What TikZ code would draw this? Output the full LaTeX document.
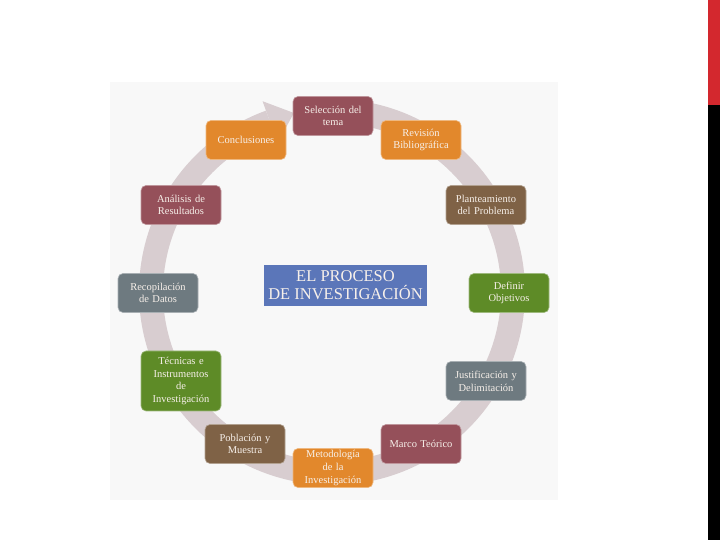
\documentclass[tikz,border=0pt]{standalone}
\usepackage{fontspec}
\setmainfont{Liberation Serif}
\usetikzlibrary{calc}
\definecolor{cmaroon}{HTML}{95505A}
\definecolor{corange}{HTML}{E2882C}
\definecolor{cbrown}{HTML}{7F6246}
\definecolor{cgreen}{HTML}{5E8B27}
\definecolor{cgray}{HTML}{6E7A80}
\definecolor{cblue}{HTML}{5B76B9}
\definecolor{cring}{HTML}{D8CDD0}
\definecolor{cpanel}{HTML}{F8F8F8}
\definecolor{ctext}{HTML}{F7F0EA}
\definecolor{cred}{HTML}{D3282E}
\tikzset{
  stepbox/.style={rounded corners=5pt, minimum width=80pt, minimum height=39pt,
    text width=78pt, align=center, inner sep=1pt, text=ctext,
    font=\fontsize{10.5}{12.8}\selectfont, line width=0.6pt},
  titlebox/.style={fill=cblue, minimum width=163pt, minimum height=41pt,
    align=center, text=ctext, inner sep=1pt, font=\fontsize{16.5}{18}\selectfont}
}
\begin{document}
\begin{tikzpicture}[x=1pt,y=1pt]
\useasboundingbox (0,0) rectangle (720,540);
\fill[white] (0,0) rectangle (720,540);
% side bar
\fill[cred] (708,435) rectangle (720,540);
\fill[black] (708,0) rectangle (720,435);
% panel
\fill[cpanel] (110,40) rectangle (558,458);
% ring arrow
\coordinate (C) at (332,248);
\draw[cring, line width=24pt] ($(C)+(86:181)$) arc[start angle=86, end angle=-250, radius=181];
\fill[cring] ($(C)+(110:159)$) -- ($(C)+(110:203)$) -- ($(C)+(102:183)$) -- cycle;
% boxes
\node[stepbox, fill=cmaroon, draw=cmaroon!60!white] (sel) at (333,424) {Selección del\\tema};
\node[stepbox, fill=corange, draw=corange!60!white] (rev) at (421,400) {Revisión\\Bibliográfica};
\node[stepbox, fill=cbrown, draw=cbrown!60!white] (pla) at (486,335) {Planteamiento\\del Problema};
\node[stepbox, fill=cgreen, draw=cgreen!60!white] (def) at (509,247) {Definir\\Objetivos};
\node[stepbox, fill=cgray, draw=cgray!60!white] (jus) at (486,159) {Justificación  y\\Delimitación};
\node[stepbox, fill=cmaroon, draw=cmaroon!60!white] (mar) at (421,96) {Marco Teórico};
\node[stepbox, fill=corange, draw=corange!60!white] (met) at (333,72) {Metodología\\de la\\Investigación};
\node[stepbox, fill=cbrown, draw=cbrown!60!white] (pob) at (245,96) {Población y\\Muestra};
\node[stepbox, fill=cgreen, draw=cgreen!60!white, minimum height=60pt] (tec) at (181,159) {Técnicas  e\\Instrumentos\\de\\Investigación};
\node[stepbox, fill=cgray, draw=cgray!60!white] (rec) at (158,247) {Recopilación\\de Datos};
\node[stepbox, fill=cmaroon, draw=cmaroon!60!white] (ana) at (181,335) {Análisis  de\\Resultados};
\node[stepbox, fill=corange, draw=corange!60!white] (con) at (246,400) {Conclusiones};
% title
\node[titlebox] (title) at (345.5,254.5) {EL PROCESO\\DE INVESTIGACIÓN};
\end{tikzpicture}
\end{document}
